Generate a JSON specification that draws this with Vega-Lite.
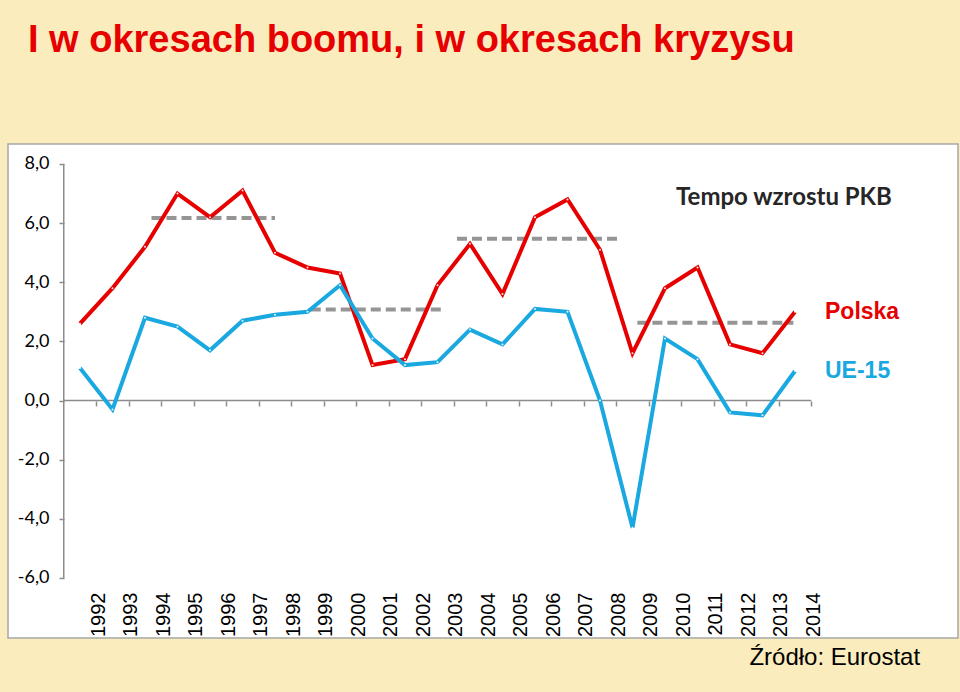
{
  "$schema": "https://vega.github.io/schema/vega-lite/v6.json",
  "width": 950,
  "height": 494,
  "autosize": {"type": "none"},
  "padding": {"left": 8, "top": 144, "right": 2, "bottom": 54},
  "background": "#fbecbe",
  "title": {
    "text": "I w okresach boomu, i w okresach kryzysu",
    "anchor": "start",
    "frame": "group",
    "dx": 20,
    "offset": 54,
    "baseline": "alphabetic",
    "font": "Liberation Sans, Arial, sans-serif",
    "fontSize": 38,
    "fontWeight": "bold",
    "color": "#e60000"
  },
  "config": {
    "view": {"fill": "white", "stroke": "#a6a6a6", "strokeWidth": 1.5}
  },
  "datasets": {
    "gdp": [
      {"year": 1992, "series": "Polska", "value": 2.6},
      {"year": 1993, "series": "Polska", "value": 3.8},
      {"year": 1994, "series": "Polska", "value": 5.2},
      {"year": 1995, "series": "Polska", "value": 7.0},
      {"year": 1996, "series": "Polska", "value": 6.2},
      {"year": 1997, "series": "Polska", "value": 7.1},
      {"year": 1998, "series": "Polska", "value": 5.0},
      {"year": 1999, "series": "Polska", "value": 4.5},
      {"year": 2000, "series": "Polska", "value": 4.3},
      {"year": 2001, "series": "Polska", "value": 1.2},
      {"year": 2002, "series": "Polska", "value": 1.4},
      {"year": 2003, "series": "Polska", "value": 3.9},
      {"year": 2004, "series": "Polska", "value": 5.3},
      {"year": 2005, "series": "Polska", "value": 3.6},
      {"year": 2006, "series": "Polska", "value": 6.2},
      {"year": 2007, "series": "Polska", "value": 6.8},
      {"year": 2008, "series": "Polska", "value": 5.1},
      {"year": 2009, "series": "Polska", "value": 1.6},
      {"year": 2010, "series": "Polska", "value": 3.8},
      {"year": 2011, "series": "Polska", "value": 4.5},
      {"year": 2012, "series": "Polska", "value": 1.9},
      {"year": 2013, "series": "Polska", "value": 1.6},
      {"year": 2014, "series": "Polska", "value": 3.0},
      {"year": 1992, "series": "UE-15", "value": 1.1},
      {"year": 1993, "series": "UE-15", "value": -0.3},
      {"year": 1994, "series": "UE-15", "value": 2.8},
      {"year": 1995, "series": "UE-15", "value": 2.5},
      {"year": 1996, "series": "UE-15", "value": 1.7},
      {"year": 1997, "series": "UE-15", "value": 2.7},
      {"year": 1998, "series": "UE-15", "value": 2.9},
      {"year": 1999, "series": "UE-15", "value": 3.0},
      {"year": 2000, "series": "UE-15", "value": 3.9},
      {"year": 2001, "series": "UE-15", "value": 2.1},
      {"year": 2002, "series": "UE-15", "value": 1.2},
      {"year": 2003, "series": "UE-15", "value": 1.3},
      {"year": 2004, "series": "UE-15", "value": 2.4},
      {"year": 2005, "series": "UE-15", "value": 1.9},
      {"year": 2006, "series": "UE-15", "value": 3.1},
      {"year": 2007, "series": "UE-15", "value": 3.0},
      {"year": 2008, "series": "UE-15", "value": 0.0},
      {"year": 2009, "series": "UE-15", "value": -4.3},
      {"year": 2010, "series": "UE-15", "value": 2.1},
      {"year": 2011, "series": "UE-15", "value": 1.4},
      {"year": 2012, "series": "UE-15", "value": -0.4},
      {"year": 2013, "series": "UE-15", "value": -0.5},
      {"year": 2014, "series": "UE-15", "value": 1.0}
    ],
    "averages": [
      {"start": 1994.2, "end": 1998.0, "value": 6.17},
      {"start": 1999.1, "end": 2003.2, "value": 3.08},
      {"start": 2003.6, "end": 2008.55, "value": 5.47},
      {"start": 2009.15, "end": 2013.95, "value": 2.63}
    ]
  },
  "layer": [
    {
      "data": {"values": [{}]},
      "mark": {"type": "rule", "color": "#8c8c8c", "strokeWidth": 1.5},
      "encoding": {
        "x": {"datum": 1991.5, "type": "quantitative", "axis": null, "scale": {"domain": [1989.7846, 2019.015], "nice": false, "zero": false}},
        "y": {"datum": -6, "type": "quantitative", "title": null},
        "y2": {"datum": 8}
      }
    },
    {
      "data": {"values": [{}]},
      "mark": {"type": "rule", "color": "#8c8c8c", "strokeWidth": 1.5},
      "encoding": {
        "x": {"datum": 1991.5, "type": "quantitative", "axis": null},
        "x2": {"datum": 2014.5},
        "y": {"datum": 0, "type": "quantitative", "title": null}
      }
    },
    {
      "data": {"name": "averages"},
      "mark": {"type": "rule", "color": "#959595", "strokeWidth": 4, "strokeDash": [10, 5]},
      "encoding": {
        "x": {
          "field": "start",
          "type": "quantitative",
          "axis": {
            "orient": "bottom",
            "offset": -237,
            "values": [1992.5, 1993.5, 1994.5, 1995.5, 1996.5, 1997.5, 1998.5, 1999.5, 2000.5, 2001.5, 2002.5, 2003.5, 2004.5, 2005.5, 2006.5, 2007.5, 2008.5, 2009.5, 2010.5, 2011.5, 2012.5, 2013.5, 2014.5],
            "domain": false,
            "labels": false,
            "grid": false,
            "ticks": true,
            "tickSize": 5,
            "tickColor": "#8c8c8c",
            "tickWidth": 1.5,
            "title": null
          }
        },
        "x2": {"field": "end"},
        "y": {"field": "value", "type": "quantitative", "title": null}
      }
    },
    {
      "data": {"name": "gdp"},
      "mark": {"type": "line", "strokeWidth": 4},
      "encoding": {
        "x": {
          "field": "year",
          "type": "quantitative",
          "axis": {
            "orient": "bottom",
            "offset": -50,
            "values": [1992.5, 1993.5, 1994.5, 1995.5, 1996.5, 1997.5, 1998.5, 1999.5, 2000.5, 2001.5, 2002.5, 2003.5, 2004.5, 2005.5, 2006.5, 2007.5, 2008.5, 2009.5, 2010.5, 2011.5, 2012.5, 2013.5, 2014.5],
            "labelExpr": "'' + (datum.value - 0.5)",
            "labelAngle": 270,
            "labelFont": "Liberation Sans, Arial, sans-serif",
            "labelFontSize": 20,
            "labelColor": "#000000",
            "labelPadding": 4,
            "labelOffset": 2,
            "labelOverlap": false,
            "labelFlush": false,
            "domain": false,
            "ticks": false,
            "grid": false,
            "title": null
          }
        },
        "y": {
          "field": "value",
          "type": "quantitative",
          "scale": {"domain": [-8.029, 8.6763], "nice": false, "zero": false},
          "axis": {
            "orient": "left",
            "offset": -56,
            "values": [-6, -4, -2, 0, 2, 4, 6, 8],
            "labelExpr": "(datum.value < 0 ? '-' : '') + replace(format(abs(datum.value), '.1f'), '.', ',')",
            "labelFont": "Lato, Open Sans, sans-serif",
            "labelFontSize": 18,
            "labelColor": "#000000",
            "labelPadding": 10,
            "domain": false,
            "ticks": true,
            "tickSize": 5,
            "tickColor": "#8c8c8c",
            "tickWidth": 1.5,
            "grid": false,
            "title": null
          }
        },
        "color": {
          "field": "series",
          "type": "nominal",
          "scale": {"domain": ["Polska", "UE-15"], "range": ["#e60000", "#1aa8e0"]},
          "legend": null
        }
      }
    },
    {
      "data": {"name": "gdp"},
      "mark": {"type": "point", "filled": true, "color": "white", "size": 4, "opacity": 0.9},
      "encoding": {
        "x": {"field": "year", "type": "quantitative", "axis": null},
        "y": {"field": "value", "type": "quantitative", "title": null}
      }
    },
    {
      "data": {"name": "gdp"},
      "transform": [{"filter": "datum.year == 2014"}],
      "mark": {"type": "text", "align": "left", "baseline": "middle", "dx": 30, "font": "Liberation Sans, Arial, sans-serif", "fontSize": 23, "fontWeight": "bold"},
      "encoding": {
        "x": {"field": "year", "type": "quantitative", "axis": null},
        "y": {"field": "value", "type": "quantitative", "title": null},
        "text": {"field": "series"},
        "color": {"field": "series", "type": "nominal", "legend": null}
      }
    },
    {
      "data": {"values": [{}]},
      "mark": {"type": "text", "align": "center", "baseline": "middle", "font": "Lato, Open Sans, sans-serif", "fontSize": 24, "fontWeight": "bold", "color": "#262626"},
      "encoding": {
        "x": {"datum": 2013.66, "type": "quantitative", "axis": null},
        "y": {"datum": 6.865, "type": "quantitative", "title": null},
        "text": {"value": "Tempo wzrostu PKB"}
      }
    },
    {
      "data": {"values": [{}]},
      "mark": {"type": "text", "align": "right", "baseline": "middle", "font": "Liberation Sans, Arial, sans-serif", "fontSize": 24, "color": "#000000"},
      "encoding": {
        "x": {"datum": 2017.85, "type": "quantitative", "axis": null},
        "y": {"datum": -8.69, "type": "quantitative", "title": null},
        "text": {"value": "Źródło: Eurostat"}
      }
    }
  ],
  "resolve": {"axis": {"x": "independent"}}
}
